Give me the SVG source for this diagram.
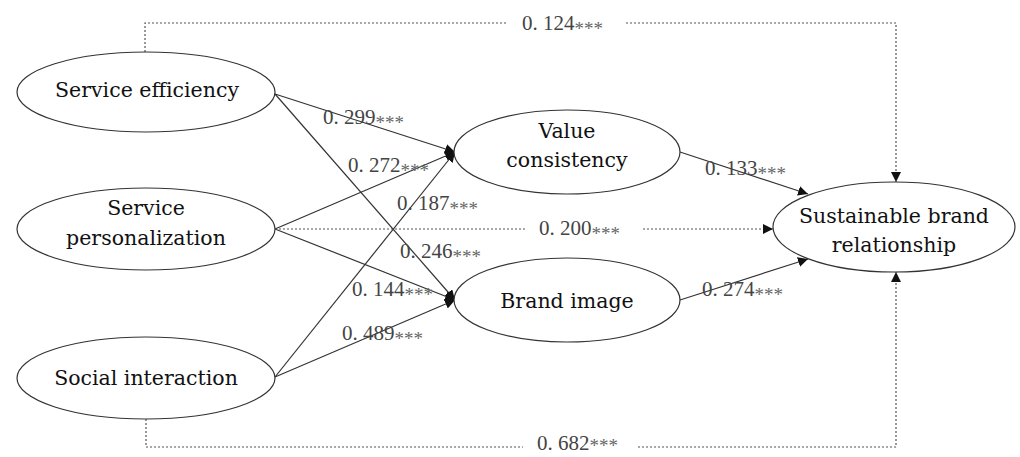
<svg xmlns="http://www.w3.org/2000/svg" width="1020" height="457" viewBox="0 0 1020 457">
<style>
.node ellipse{fill:#fff;stroke:#333;stroke-width:1.2}
.node text{font-family:"DejaVu Serif","Liberation Serif",serif;font-size:20.5px;fill:#111;text-anchor:middle}
.solid{stroke:#333;stroke-width:1.2;fill:none}
.dash{stroke:#555;stroke-width:1.2;fill:none;stroke-dasharray:2 2}
.lbl{font-family:"Liberation Serif",serif;font-size:21px;fill:#444}
.st{font-size:19px;fill:#666}
</style>
<defs>
<marker id="ah" viewBox="0 0 10 10" refX="10" refY="5" markerWidth="10" markerHeight="10" markerUnits="userSpaceOnUse" orient="auto">
<path d="M0,0 L10,5 L0,10 z" fill="#111"/>
</marker>
</defs>
<g id="connectors">
<line class="solid" x1="275" y1="94" x2="455" y2="152" marker-end="url(#ah)"/>
<line class="solid" x1="275" y1="94" x2="455" y2="300" marker-end="url(#ah)"/>
<line class="solid" x1="275" y1="229" x2="455" y2="152" marker-end="url(#ah)"/>
<line class="solid" x1="275" y1="229" x2="455" y2="300" marker-end="url(#ah)"/>
<line class="solid" x1="275" y1="377" x2="455" y2="152" marker-end="url(#ah)"/>
<line class="solid" x1="275" y1="377" x2="455" y2="300" marker-end="url(#ah)"/>
<line class="solid" x1="680" y1="152" x2="808" y2="194" marker-end="url(#ah)"/>
<line class="solid" x1="680" y1="300" x2="808" y2="259" marker-end="url(#ah)"/>
<polyline class="dash" points="145,52 145,23 507,23"/>
<polyline class="dash" points="626,23 896,23 896,182" marker-end="url(#ah)"/>
<line class="dash" x1="275" y1="229" x2="525" y2="229"/>
<line class="dash" x1="643" y1="229" x2="773" y2="229" marker-end="url(#ah)"/>
<polyline class="dash" points="146,419 146,447 523,447"/>
<polyline class="dash" points="638,447 896,447 896,272" marker-end="url(#ah)"/>
<text class="lbl" x="522" y="30">0. 124<tspan class="st" dy="5">***</tspan></text>
<text class="lbl" x="323" y="124">0. 299<tspan class="st" dy="5">***</tspan></text>
<text class="lbl" x="348" y="172">0. 272<tspan class="st" dy="5">***</tspan></text>
<text class="lbl" x="397" y="210">0. 187<tspan class="st" dy="5">***</tspan></text>
<text class="lbl" x="539" y="235">0. 200<tspan class="st" dy="5">***</tspan></text>
<text class="lbl" x="400" y="258">0. 246<tspan class="st" dy="5">***</tspan></text>
<text class="lbl" x="352" y="296">0. 144<tspan class="st" dy="5">***</tspan></text>
<text class="lbl" x="342" y="340">0. 489<tspan class="st" dy="5">***</tspan></text>
<text class="lbl" x="705" y="175">0. 133<tspan class="st" dy="5">***</tspan></text>
<text class="lbl" x="702" y="296">0. 274<tspan class="st" dy="5">***</tspan></text>
<text class="lbl" x="537" y="450">0. 682<tspan class="st" dy="2">***</tspan></text>
</g>
<g id="service-efficiency" class="node"><ellipse cx="146" cy="92" rx="129" ry="40"/><text x="147" y="97">Service efficiency</text></g>
<g id="service-personalization" class="node"><ellipse cx="146" cy="229" rx="129" ry="41"/><text x="146" y="215">Service</text><text x="146" y="245">personalization</text></g>
<g id="social-interaction" class="node"><ellipse cx="146" cy="378" rx="129" ry="41"/><text x="146" y="385">Social interaction</text></g>
<g id="value-consistency" class="node"><ellipse cx="567" cy="152" rx="113" ry="42"/><text x="567" y="138">Value</text><text x="567" y="167">consistency</text></g>
<g id="brand-image" class="node"><ellipse cx="567" cy="300" rx="113" ry="42"/><text x="567" y="308">Brand image</text></g>
<g id="sustainable-brand-relationship" class="node"><ellipse cx="894" cy="227" rx="121" ry="45"/><text x="894" y="223">Sustainable brand</text><text x="894" y="252">relationship</text></g>
</svg>
